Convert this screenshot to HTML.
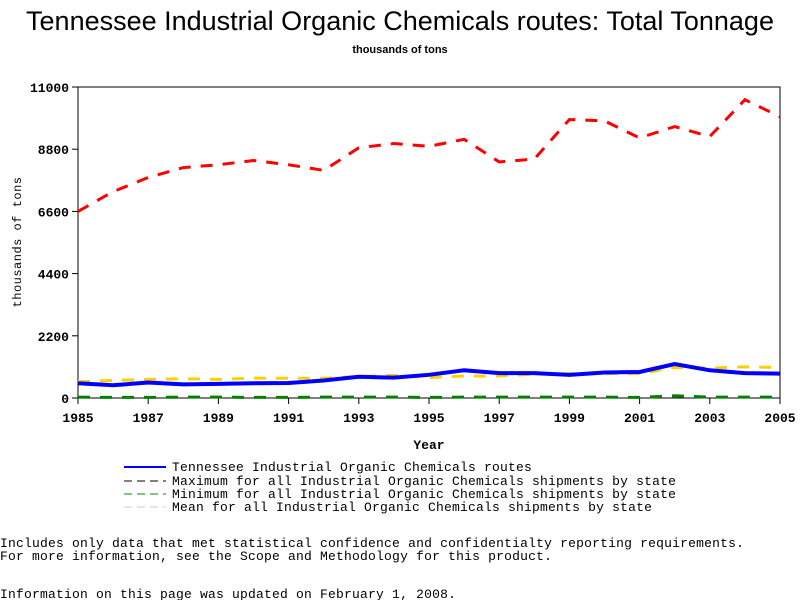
<!DOCTYPE html>
<html><head><meta charset="utf-8"><style>
body{margin:0;background:#fff;width:800px;height:600px;overflow:hidden}
svg text{font-family:"Liberation Mono",monospace}
</style></head><body>
<svg width="800" height="600">
<text x="400" y="30" text-anchor="middle" font-size="27" style="font-family:'Liberation Sans',sans-serif">Tennessee Industrial Organic Chemicals routes: Total Tonnage</text>
<text x="400" y="53" text-anchor="middle" font-size="11" font-weight="bold" style="font-family:'Liberation Sans',sans-serif">thousands of tons</text>
<rect x="78" y="87" width="702" height="311" fill="none" stroke="#000"/>
<g id="axes"></g>
<g id="series"></g>
<text transform="translate(21,242) rotate(-90)" text-anchor="middle" font-size="12" letter-spacing="0.5">thousands of tons</text>
<text x="429" y="449" text-anchor="middle" font-size="13" font-weight="bold">Year</text>
<g font-size="13" letter-spacing="0.2">
<line x1="124" y1="467" x2="166" y2="467" stroke="#00f" stroke-width="2"/>
<text x="172" y="471">Tennessee Industrial Organic Chemicals routes</text>
<line x1="124" y1="481" x2="166" y2="481" stroke="#000" stroke-dasharray="8,5"/>
<text x="172" y="485">Maximum for all Industrial Organic Chemicals shipments by state</text>
<line x1="124" y1="494" x2="166" y2="494" stroke="#080" stroke-dasharray="8,5"/>
<text x="172" y="498">Minimum for all Industrial Organic Chemicals shipments by state</text>
<line x1="124" y1="507" x2="166" y2="507" stroke="#ccc" stroke-dasharray="8,5"/>
<text x="172" y="511">Mean for all Industrial Organic Chemicals shipments by state</text>
</g>
<g font-size="13" letter-spacing="0.2">
<text x="0" y="547">Includes only data that met statistical confidence and confidentialty reporting requirements.</text>
<text x="0" y="560">For more information, see the Scope and Methodology for this product.</text>
<text x="0" y="598">Information on this page was updated on February 1, 2008.</text>
</g>
</svg>
<script>
const years=[1985,1986,1987,1988,1989,1990,1991,1992,1993,1994,1995,1996,1997,1998,1999,2000,2001,2002,2003,2004,2005];
const tennessee=[520,450,550,480,500,520,530,620,750,720,820,980,880,880,820,900,920,1200,980,880,860];
const maxVals=[6600,7300,7800,8150,8250,8400,8250,8050,8850,9000,8900,9150,8350,8450,9850,9800,9200,9600,9250,10550,9950];
const minVals=[30,20,20,30,30,20,20,30,30,30,20,30,30,30,30,30,20,80,30,30,30];
const meanVals=[580,620,660,680,660,700,700,700,760,800,720,780,780,840,860,860,860,1080,1060,1100,1080];
const yTicks=[0,2200,4400,6600,8800,11000];
const xTicks=[1985,1987,1989,1991,1993,1995,1997,1999,2001,2003,2005];
const NS='http://www.w3.org/2000/svg';
const X=v=>78+(v-1985)/20*702, Y=v=>398-v/11000*311;
const ax=document.getElementById('axes'), sg=document.getElementById('series');
function mk(tag,attrs,parent){const e=document.createElementNS(NS,tag);for(const k in attrs)e.setAttribute(k,attrs[k]);parent.appendChild(e);return e;}
yTicks.forEach(t=>{
 const l=mk('line',{x1:72,x2:78,y1:Y(t),y2:Y(t),stroke:'#000'},ax);
 
 
 const tx=mk('text',{x:69,y:Y(t)+5,'text-anchor':'end','font-size':13,'font-weight':'bold'},ax);tx.textContent=t;
 
 
});
xTicks.forEach(t=>{
 const l=mk('line',{x1:X(t),x2:X(t),y1:398,y2:404,stroke:'#000'},ax);
 
 
 const tx=mk('text',{x:X(t),y:422,'text-anchor':'middle','font-size':13,'font-weight':'bold'},ax);tx.textContent=t;
 
 
});
function line(vals,color,w,dash,name){
 const p=mk('polyline',{points:vals.map((v,i)=>X(years[i])+','+Y(v)).join(' '),fill:'none',stroke:color,'stroke-width':w},sg);
 if(dash)p.setAttribute('stroke-dasharray',dash);
 
 
}
line(minVals,'#008000',3,'12,10','min-line');
line(meanVals,'#ffd000',3,'12,10','mean-line');
line(tennessee,'#0000ff',4,null,'tennessee-line');
line(maxVals,'#ff0000',3,'12,10','max-line');
</script>
</body></html>
